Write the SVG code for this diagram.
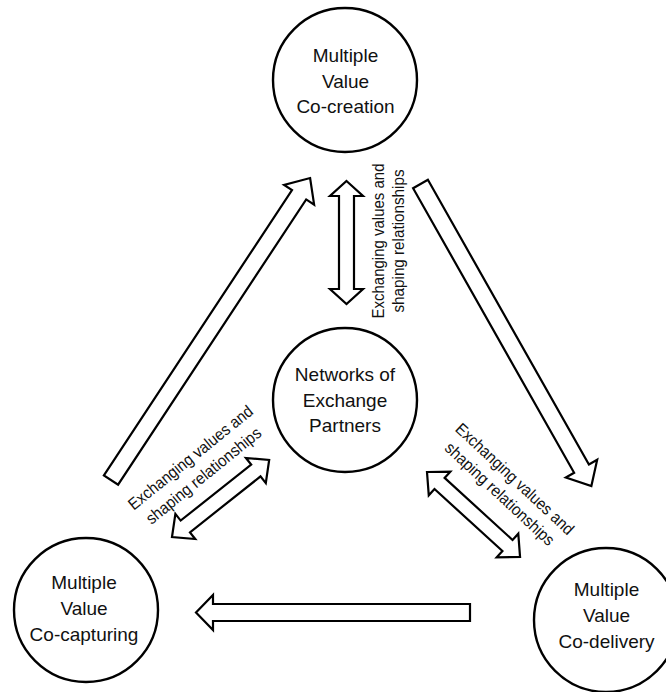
<svg xmlns="http://www.w3.org/2000/svg" width="666" height="692" viewBox="0 0 666 692">
<style>
.node{fill:#fff;stroke:#000;stroke-width:2.4}
.arrow{fill:#fff;stroke:#000;stroke-width:2.2;stroke-linejoin:miter}
.t{font-family:"Liberation Sans",Arial,sans-serif;font-size:19px;fill:#111;text-anchor:middle}
.lbl{font-family:"Liberation Sans",Arial,sans-serif;font-size:16.5px;fill:#111;text-anchor:middle}
</style>
<rect width="666" height="692" fill="#fff"/>
<g id="connectors">
<polygon class="arrow" points="0,-8.5 341.7,-8.5 341.7,-18 361.7,0 341.7,18 341.7,8.5 0,8.5" transform="translate(111,480) rotate(-56.6)"/>
<polygon class="arrow" points="0,-8.5 327,-8.5 327,-18 347,0 327,18 327,8.5 0,8.5" transform="translate(420.5,184) rotate(60.5)"/>
<polygon class="arrow" points="0,-8.5 257,-8.5 257,-17.5 274,0 257,17.5 257,8.5 0,8.5" transform="translate(470,612.5) rotate(180)"/>
<polygon class="arrow" points="0,0 15,-16.5 15,-7.5 108,-7.5 108,-16.5 123,0 108,16.5 108,7.5 15,7.5 15,16.5" transform="translate(346.5,181) rotate(90)"/>
<polygon class="arrow" points="0,0 17,-16 17,-7.5 109,-7.5 109,-16 126,0 109,16 109,7.5 17,7.5 17,16" transform="translate(427,472) rotate(42.4)"/>
<polygon class="arrow" points="0,0 17,-16 17,-7.5 107,-7.5 107,-16 124,0 107,16 107,7.5 17,7.5 17,16" transform="translate(172,537) rotate(-38.4)"/>
</g>
<g id="labels">
<text class="lbl" transform="translate(384,241) rotate(-90)" textLength="155" lengthAdjust="spacingAndGlyphs">Exchanging values and</text>
<text class="lbl" transform="translate(404,241) rotate(-90)" textLength="143" lengthAdjust="spacingAndGlyphs">shaping relationships</text>
<text class="lbl" transform="translate(194,462) rotate(-39)" textLength="155" lengthAdjust="spacingAndGlyphs">Exchanging values and</text>
<text class="lbl" transform="translate(207,480) rotate(-39)" textLength="143" lengthAdjust="spacingAndGlyphs">shaping relationships</text>
<text class="lbl" transform="translate(511,483) rotate(43)" textLength="155" lengthAdjust="spacingAndGlyphs">Exchanging values and</text>
<text class="lbl" transform="translate(496,498) rotate(43)" textLength="143" lengthAdjust="spacingAndGlyphs">shaping relationships</text>
</g>
<g id="node-cocreation">
<circle class="node" cx="345" cy="80" r="72"/>
<text class="t" x="345.5" y="62">Multiple</text>
<text class="t" x="345.5" y="87.5">Value</text>
<text class="t" x="345.5" y="113">Co-creation</text>
</g>
<g id="node-networks">
<circle class="node" cx="345" cy="400" r="72"/>
<text class="t" x="345" y="381">Networks of</text>
<text class="t" x="345" y="406.5">Exchange</text>
<text class="t" x="345" y="432">Partners</text>
</g>
<g id="node-cocapturing">
<circle class="node" cx="86" cy="610" r="72"/>
<text class="t" x="84" y="589">Multiple</text>
<text class="t" x="84" y="615">Value</text>
<text class="t" x="84" y="641">Co-capturing</text>
</g>
<g id="node-codelivery">
<circle class="node" cx="606" cy="620" r="72"/>
<text class="t" x="606.5" y="596">Multiple</text>
<text class="t" x="606.5" y="621.5">Value</text>
<text class="t" x="606.5" y="647.5">Co-delivery</text>
</g>
</svg>
